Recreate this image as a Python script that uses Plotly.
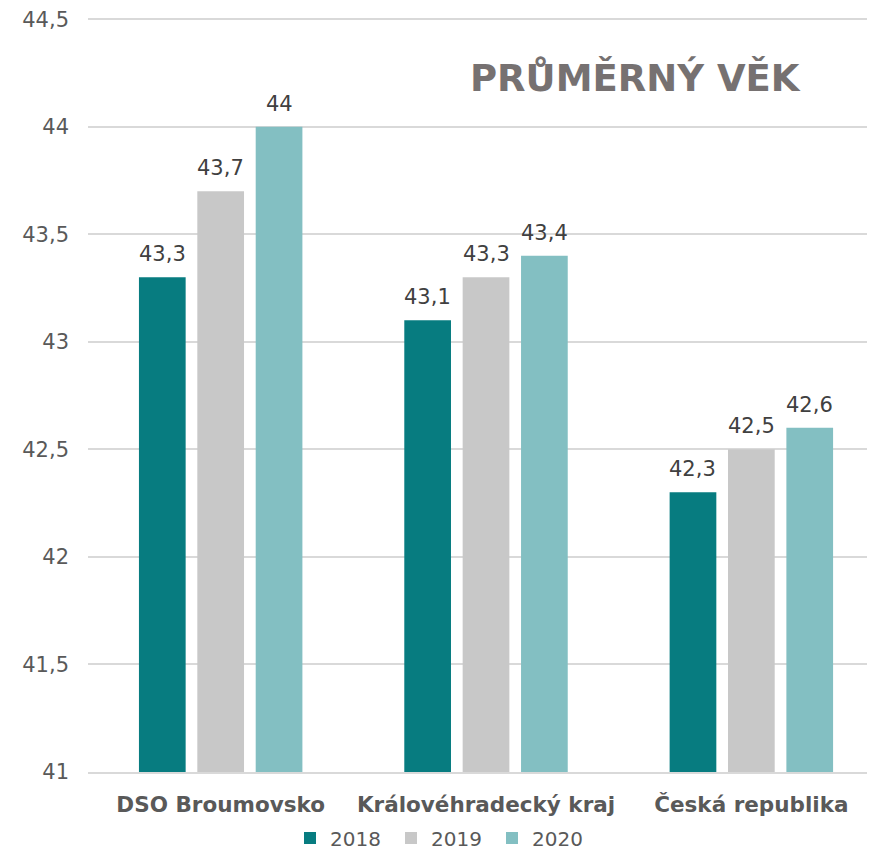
import plotly.graph_objects as go

categories = ["DSO Broumovsko", "Královéhradecký kraj", "Česká republika"]
years = ["2018", "2019", "2020"]
values_2018 = [43.3, 43.1, 42.3]
values_2019 = [43.7, 43.3, 42.5]
values_2020 = [44.0, 43.4, 42.6]
colors = ["#077c80", "#c8c8c8", "#83bfc2"]
title_text = "PRŮMĚRNÝ VĚK"

series = [values_2018, values_2019, values_2020]

def fmt(v):
    return ("%g" % v).replace(".", ",")

FONT = "DejaVu Sans"
BARGAP = 0.34
SLOT_PX = 58.4  # horizontal distance between bars in a group

# page body has an 8px margin, so the figure is drawn 8px in from the window corner
W, H = 867, 843
ML, MR, MT, MB = 80, 0, 9, 79

fig = go.Figure()
annotations = []
for k, (yr, vals, col) in enumerate(zip(years, series, colors)):
    fig.add_trace(go.Bar(
        x=categories, y=vals, name=yr,
        marker=dict(color=col, line=dict(width=0)),
    ))
    for c, v in zip(categories, vals):
        annotations.append(dict(
            x=c, y=v, xref="x", yref="y", text=fmt(v), showarrow=False,
            xanchor="center", yanchor="bottom", yshift=9, xshift=(k - 1) * SLOT_PX,
            font=dict(family=FONT, size=21, color="#404040"),
        ))

plot_w = W - ML - MR
plot_h = H - MT - MB
annotations.append(dict(text="<b>" + title_text + "</b>",
                        x=(627 - ML) / plot_w, y=(H - MB - 70) / plot_h,
                        xref="paper", yref="paper",
                        showarrow=False, font=dict(family=FONT, size=37, color="#767171"),
                        xanchor="center", yanchor="middle"))

fig.update_layout(
    width=W, height=H,
    margin=dict(l=ML, r=MR, t=MT, b=MB, autoexpand=False),
    paper_bgcolor="white", plot_bgcolor="white",
    separators=",.",
    barmode="group", bargap=BARGAP, bargroupgap=0.2,
    font=dict(family=FONT, color="#595959", size=20),
    showlegend=True,
    legend=dict(orientation="h", x=0.5, xanchor="center", xref="container",
                y=1 - 830 / H, yanchor="middle", yref="container",
                font=dict(size=20, color="#595959", family=FONT), itemwidth=30,
                traceorder="normal", entrywidth=56),
    annotations=annotations,
)

fig.update_xaxes(range=[-0.5, 2.466], showgrid=False, showline=True, linecolor="#d9d9d9", linewidth=2,
                 ticks="", automargin=False, ticklabelstandoff=12,
                 tickfont=dict(size=21.5, color="#595959", family=FONT),
                 ticktext=["<b>" + c + "</b>" for c in categories], tickvals=categories)
fig.update_yaxes(range=[41, 44.51], dtick=0.5, tick0=41, showgrid=True, gridcolor="#d9d9d9", gridwidth=2,
                 zeroline=False, showline=False, ticks="", ticklabelstandoff=18, automargin=False,
                 ticklabeloverflow="allow",
                 tickfont=dict(size=21, color="#595959", family=FONT))

fig.write_html("out.html")
